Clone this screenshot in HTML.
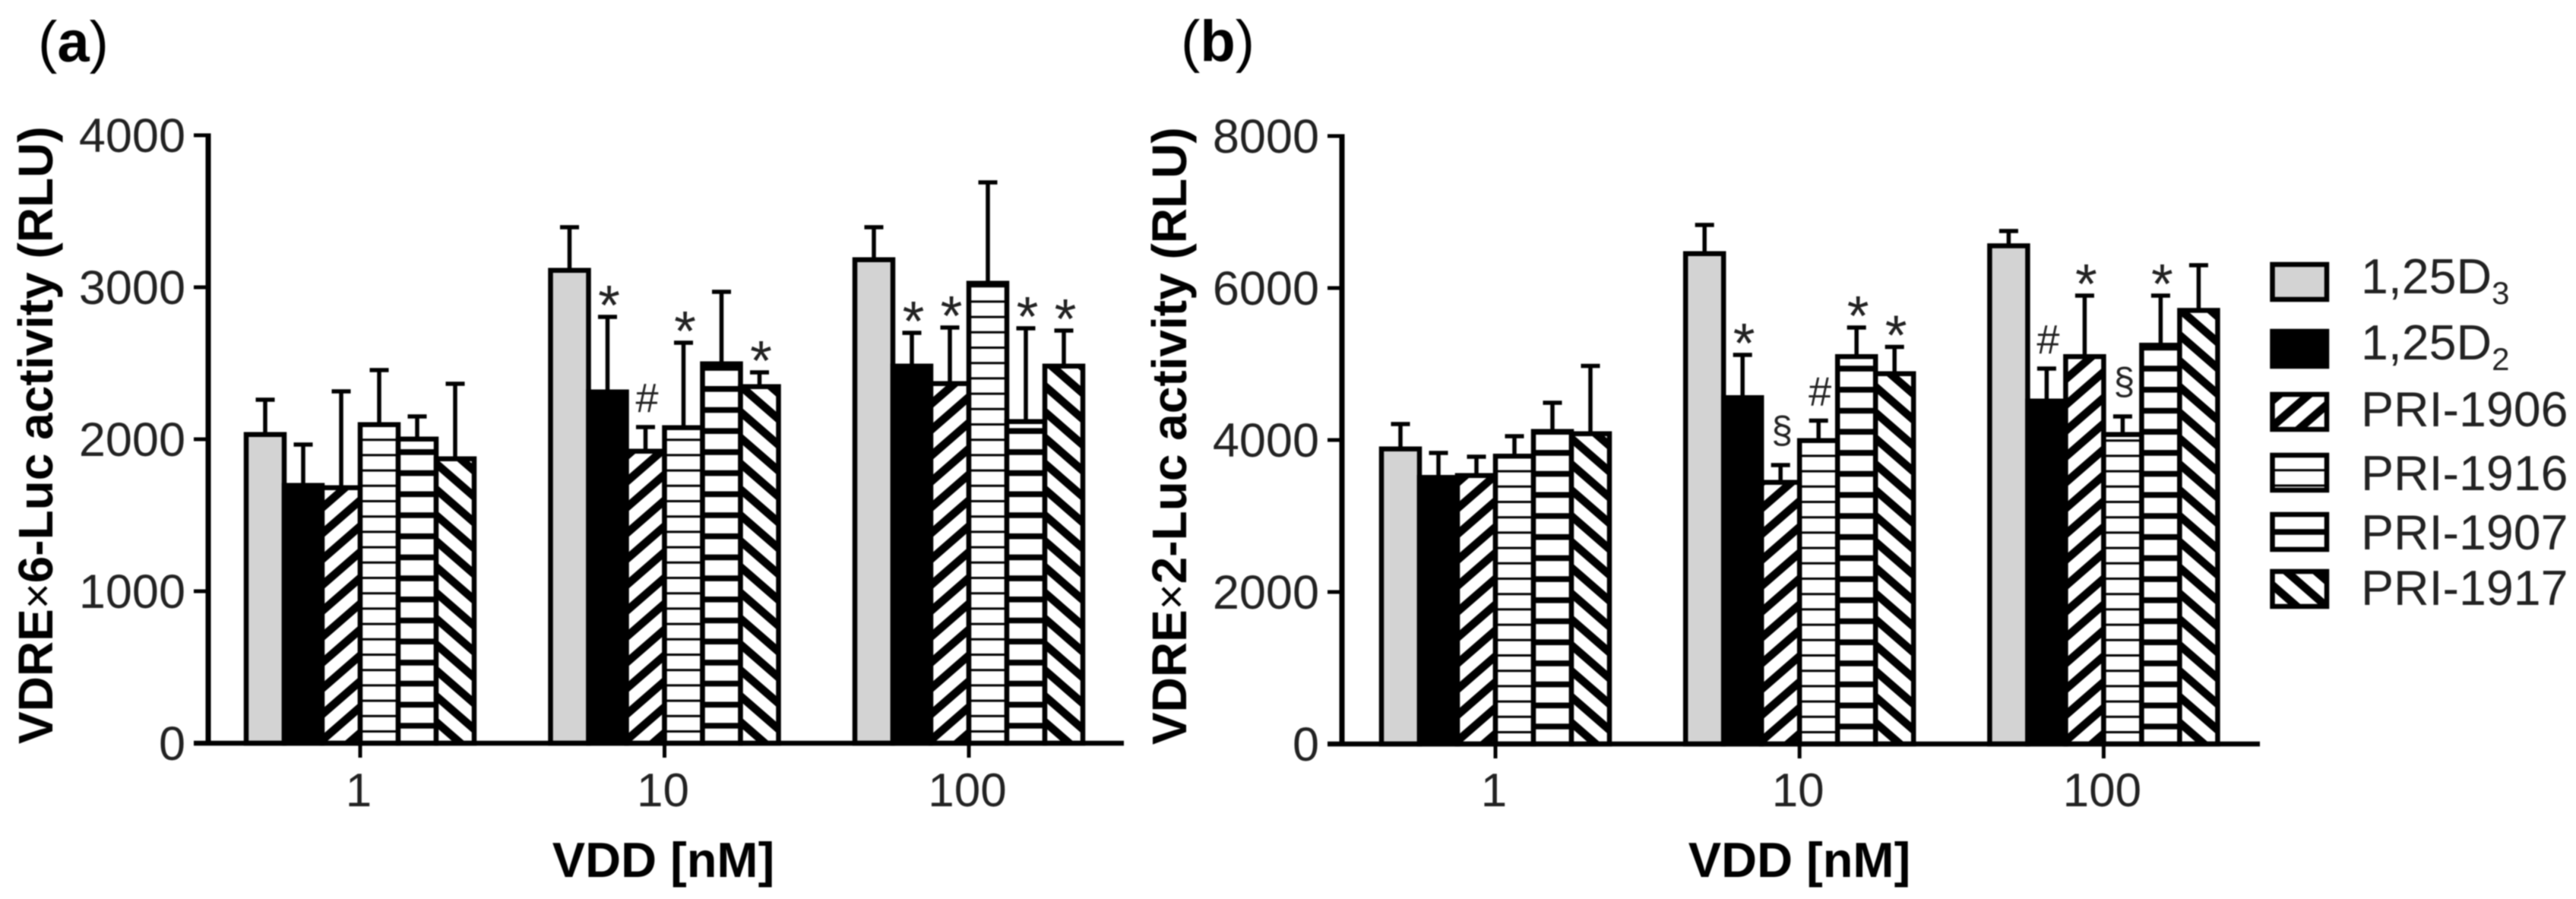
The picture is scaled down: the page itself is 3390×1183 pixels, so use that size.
<!DOCTYPE html>
<html lang="en">
<head>
<meta charset="utf-8">
<title>VDRE luciferase activity</title>
<style>
html,body{margin:0;padding:0;background:#fff;}
svg{display:block;filter:blur(0.7px);}
text{font-family:"Liberation Sans",Arial,sans-serif;fill:#222;}
.ttl{font-weight:bold;fill:#000;font-size:65px;}
.ytl{font-size:64px;}
.lab{font-size:76px;fill:#000;}
.leg{font-size:64.5px;}
.sub{font-size:42px;}
</style>
</head>
<body>
<svg id="chart" xmlns="http://www.w3.org/2000/svg" width="3390" height="1183" viewBox="0 0 3390 1183">
  <g id="bars"></g>
  <g id="axes"></g>
  <g id="legend"></g>

  <text class="lab" x="50" y="81">(<tspan font-weight="bold">a</tspan>)</text>
  <text class="lab" x="1554" y="80">(<tspan font-weight="bold">b</tspan>)</text>

  <text class="ttl ytl" transform="translate(69,979) rotate(-90)">VDRE<tspan font-weight="normal" font-size="58">×</tspan>6-Luc activity (RLU)</text>
  <text class="ttl ytl" transform="translate(1561,980) rotate(-90)">VDRE<tspan font-weight="normal" font-size="58">×</tspan>2-Luc activity (RLU)</text>

  <text class="ttl" x="873" y="1154" text-anchor="middle">VDD [nM]</text>
  <text class="ttl" x="2368" y="1154" text-anchor="middle">VDD [nM]</text>

  <text class="leg" x="3107" y="386">1,25D<tspan class="sub" dy="14">3</tspan></text>
  <text class="leg" x="3107" y="473">1,25D<tspan class="sub" dy="14">2</tspan></text>
  <text class="leg" x="3107" y="561">PRI-1906</text>
  <text class="leg" x="3107" y="645">PRI-1916</text>
  <text class="leg" x="3107" y="723">PRI-1907</text>
  <text class="leg" x="3107" y="796">PRI-1917</text>
</svg>

<script>
// ---- data ----
const categories = ['1', '10', '100'];
const seriesNames = ['1,25D3', '1,25D2', 'PRI-1906', 'PRI-1916', 'PRI-1907', 'PRI-1917'];
const tickLabelsA = [0, 1000, 2000, 3000, 4000];
const tickLabelsB = [0, 2000, 4000, 6000, 8000];

// Panel a: means per dose, series order as seriesNames
const aMeans1   = [2040, 1705, 1690, 2105, 2010, 1880];
const aMeans10  = [3120, 2320, 1930, 2085, 2505, 2355];
const aMeans100 = [3190, 2490, 2375, 3035, 2125, 2490];
// Panel a: upper error size
const aErr1   = [220, 260, 625, 350, 140, 485];
const aErr10  = [275, 485, 150, 550, 465, 85];
const aErr100 = [205, 210, 360, 655, 605, 225];
// Panel a: significance markers
const aMarks1   = ['', '', '', '', '', ''];
const aMarks10  = ['', '*', '#', '*', '', '*'];
const aMarks100 = ['', '*', '*', '', '*', '*'];

// Panel b: means per dose
const bMeans1   = [3900, 3525, 3550, 3805, 4130, 4100];
const bMeans10  = [6470, 4575, 3460, 4010, 5115, 4890];
const bMeans100 = [6573, 4530, 5115, 4090, 5265, 5723];
// Panel b: upper error size
const bErr1   = [310, 305, 230, 245, 360, 875];
const bErr10  = [360, 545, 210, 245, 365, 335];
const bErr100 = [177, 410, 785, 220, 635, 577];
// Panel b: significance markers
const bMarks1   = ['', '', '', '', '', ''];
const bMarks10  = ['', '*', '§', '#', '*', '*'];
const bMarks100 = ['', '#', '*', '§', '*', ''];

// ---- drawing ----
const NS = 'http://www.w3.org/2000/svg';
const barLayer = document.getElementById('bars');
const axisLayer = document.getElementById('axes');
const legendLayer = document.getElementById('legend');
const STROKE = 6.5;
let clipId = 0;

function mk(tag, parent) {
  const el = document.createElementNS(NS, tag);
  parent.appendChild(el);
  return el;
}

function makeLinear(d0, r0, d1, r1) {
  return function (v) { return r0 + (v - d0) * (r1 - r0) / (d1 - d0); };
}

// Stripe path for a series inside box l..r, t..b
function hatchPath(series, l, r, t, b, thinShift) {
  let d = '';
  if (series === 2 || series === 5) {
    const P = 34, T = 14, s = 0.87;
    const w = r - l;
    for (let c = b + 2 * P; c > t - P - w * s; c -= P) {
      if (series === 2) {
        const c0 = c - 11;
        d += 'M' + l + ' ' + c0 + 'L' + r + ' ' + (c0 - s * w) + 'L' + r + ' ' + (c0 - s * w + T) + 'L' + l + ' ' + (c0 + T) + 'Z';
      } else {
        const c0 = c - 1 - P;
        d += 'M' + l + ' ' + c0 + 'L' + r + ' ' + (c0 + s * w) + 'L' + r + ' ' + (c0 + s * w + T) + 'L' + l + ' ' + (c0 + T) + 'Z';
      }
    }
  } else if (series === 3) {
    for (let y = b - 15.5 + thinShift; y > t; y -= 20.2) {
      d += 'M' + l + ' ' + (y - 1.5) + 'H' + r + 'V' + (y + 1.5) + 'H' + l + 'Z';
    }
  } else if (series === 4) {
    for (let y = b - 23; y > t; y -= 27.7) {
      d += 'M' + l + ' ' + (y - 3.8) + 'H' + r + 'V' + (y + 3.8) + 'H' + l + 'Z';
    }
  }
  return d;
}

function drawBox(parent, series, x0, x1, yTop, yBase, thinShift) {
  const fill = series === 0 ? '#d3d3d3' : series === 1 ? '#000' : '#fff';
  const box = mk('rect', parent);
  
  
  box.setAttribute('x', x0);
  box.setAttribute('y', yTop);
  box.setAttribute('width', x1 - x0);
  box.setAttribute('height', yBase - yTop);
  box.setAttribute('fill', fill);

  if (series >= 2) {
    const id = 'clip' + (clipId++);
    const clip = mk('clipPath', parent);
    clip.setAttribute('id', id);
    const cr = mk('rect', clip);
    cr.setAttribute('x', x0);
    cr.setAttribute('y', yTop);
    cr.setAttribute('width', x1 - x0);
    cr.setAttribute('height', yBase - yTop);
    const hatch = mk('path', parent);
    
    
    hatch.setAttribute('d', hatchPath(series, x0, x1, yTop, yBase, thinShift));
    hatch.setAttribute('fill', '#000');
    hatch.setAttribute('clip-path', 'url(#' + id + ')');
  }

  const outline = mk('rect', parent);
  
  
  outline.setAttribute('x', x0);
  outline.setAttribute('y', yTop);
  outline.setAttribute('width', x1 - x0);
  outline.setAttribute('height', yBase - yTop);
  outline.setAttribute('fill', 'none');
  outline.setAttribute('stroke', '#000');
  outline.setAttribute('stroke-width', STROKE);
}

function drawPanel(opts) {
  const y = makeLinear(0, opts.baseY, opts.ticks[opts.ticks.length - 1], opts.topY);
  const xCenter = function (i) { return opts.firstX + i * opts.stepX; };

  // bars + error bars
  for (let g = 0; g < categories.length; g++) {
    for (let s = 0; s < seriesNames.length; s++) {
      const left = xCenter(g) - 150 + s * 50;
      const right = left + 50;
      const mid = left + 25;
      const top = y(opts.means[g][s]);
      const capY = y(opts.means[g][s] + opts.errs[g][s]);

      const stem = mk('line', barLayer);
      
      
      stem.setAttribute('x1', mid);
      stem.setAttribute('x2', mid);
      stem.setAttribute('y1', capY);
      stem.setAttribute('y2', top + 2);
      stem.setAttribute('stroke', '#000');
      stem.setAttribute('stroke-width', 5.5);

      const cap = mk('line', barLayer);
      
      
      cap.setAttribute('x1', mid - 12.5);
      cap.setAttribute('x2', mid + 12.5);
      cap.setAttribute('y1', capY);
      cap.setAttribute('y2', capY);
      cap.setAttribute('stroke', '#000');
      cap.setAttribute('stroke-width', 5.5);

      drawBox(barLayer, s, left, right, top + STROKE / 2 - 1.5, opts.baseY, 0);

      const mark = opts.marks[g][s];
      if (mark) {
        const t = mk('text', barLayer);
        
        
        t.setAttribute('text-anchor', 'middle');
        t.setAttribute('x', mid + 2);
        if (mark === '*') {
          t.setAttribute('y', capY + 10);
          t.setAttribute('font-size', 74);
        } else if (mark === '#') {
          t.setAttribute('y', capY - 20);
          t.setAttribute('font-size', 54);
        } else {
          t.setAttribute('y', capY - 29);
          t.setAttribute('font-size', 50);
        }
        t.textContent = mark;
      }
    }
  }

  // y axis
  const yLine = mk('line', axisLayer);
  
  
  yLine.setAttribute('x1', opts.axisX);
  yLine.setAttribute('x2', opts.axisX);
  yLine.setAttribute('y1', opts.topY - 2.5);
  yLine.setAttribute('y2', opts.baseY);
  yLine.setAttribute('stroke', '#000');
  yLine.setAttribute('stroke-width', 7);

  opts.ticks.forEach(function (v) {
    const tk = mk('line', axisLayer);
    
    
    tk.setAttribute('x1', opts.axisX - 19);
    tk.setAttribute('x2', opts.axisX);
    tk.setAttribute('y1', y(v));
    tk.setAttribute('y2', y(v));
    tk.setAttribute('stroke', '#000');
    tk.setAttribute('stroke-width', 5);

    const lb = mk('text', axisLayer);
    
    
    lb.setAttribute('x', opts.axisX - 30);
    lb.setAttribute('y', y(v) + 22);
    lb.setAttribute('text-anchor', 'end');
    lb.setAttribute('font-size', 63);
    lb.textContent = v;
  });

  // x axis
  const xLine = mk('line', axisLayer);
  
  
  xLine.setAttribute('x1', opts.axisX - 19);
  xLine.setAttribute('x2', opts.axisEndX);
  xLine.setAttribute('y1', opts.baseY);
  xLine.setAttribute('y2', opts.baseY);
  xLine.setAttribute('stroke', '#000');
  xLine.setAttribute('stroke-width', 6.5);

  categories.forEach(function (c, i) {
    const tk = mk('line', axisLayer);
    
    
    tk.setAttribute('x1', xCenter(i));
    tk.setAttribute('x2', xCenter(i));
    tk.setAttribute('y1', opts.baseY);
    tk.setAttribute('y2', opts.baseY + 19);
    tk.setAttribute('stroke', '#000');
    tk.setAttribute('stroke-width', 5);

    const lb = mk('text', axisLayer);
    
    
    lb.setAttribute('x', xCenter(i) - 2);
    lb.setAttribute('y', 1061);
    lb.setAttribute('text-anchor', 'middle');
    lb.setAttribute('font-size', 62);
    lb.textContent = c;
  });
}

drawPanel({
  ticks: tickLabelsA,
  means: [aMeans1, aMeans10, aMeans100],
  errs: [aErr1, aErr10, aErr100],
  marks: [aMarks1, aMarks10, aMarks100],
  axisX: 274, axisEndX: 1479, baseY: 978, topY: 178,
  firstX: 474, stepX: 400.5
});

drawPanel({
  ticks: tickLabelsB,
  means: [bMeans1, bMeans10, bMeans100],
  errs: [bErr1, bErr10, bErr100],
  marks: [bMarks1, bMarks10, bMarks100],
  axisX: 1766, axisEndX: 2974, baseY: 979, topY: 179,
  firstX: 1968, stepX: 400.2
});

// legend swatches
const legendTops = [348, 436, 519, 599, 677, 752];
legendTops.forEach(function (top, s) {
  drawBox(legendLayer, s, 2990.5, 3062, top, top + 46, 9.5);
});
</script>
</body>
</html>
